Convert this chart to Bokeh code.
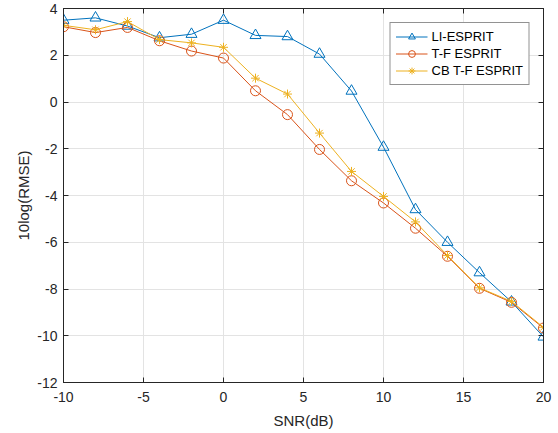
from bokeh.plotting import figure
from bokeh.models import LinearAxis, Range1d, FixedTicker, Legend, LegendItem
from bokeh.embed import file_html
from bokeh.resources import INLINE

snr = [-10, -8, -6, -4, -2, 0, 2, 4, 6, 8, 10, 12, 14, 16, 18, 20]
li_esprit = [3.5, 3.6, 3.25, 2.75, 2.9, 3.5, 2.85, 2.8, 2.05, 0.47, -1.93, -4.6, -6.0, -7.3, -8.55, -10.05]
tf_esprit = [3.22, 2.97, 3.19, 2.62, 2.18, 1.88, 0.48, -0.54, -2.03, -3.37, -4.32, -5.4, -6.6, -7.97, -8.57, -9.67]
cb_tf_esprit = [3.28, 3.09, 3.44, 2.67, 2.53, 2.34, 1.02, 0.34, -1.33, -2.97, -4.04, -5.13, -6.57, -7.95, -8.53, -9.64]
x_ticks = [-10, -5, 0, 5, 10, 15, 20]
x_tick_labels = ["-10", "-5", "0", "5", "10", "15", "20"]
y_ticks = [-12, -10, -8, -6, -4, -2, 0, 2, 4]
y_tick_labels = ["-12", "-10", "-8", "-6", "-4", "-2", "0", "2", "4"]
series_names = ["LI-ESPRIT", "T-F ESPRIT", "CB T-F ESPRIT"]

FONT = "Liberation Sans"
AX = "#262626"

p = figure(frame_width=480, frame_height=374,
           min_border_left=63, min_border_top=8, min_border_right=15, min_border_bottom=0,
           x_range=Range1d(-10, 20), y_range=Range1d(-12, 4),
           output_backend="svg", toolbar_location=None)

p.background_fill_color = "white"
p.border_fill_color = "white"
p.outline_line_color = AX
p.outline_line_width = 1
p.outline_line_alpha = 1

for ax in (p.xaxis[0], p.yaxis[0]):
    ax.major_tick_in = 5
    ax.major_tick_out = 0
    ax.minor_tick_line_color = None
    ax.axis_line_color = AX
    ax.major_tick_line_color = AX
    ax.major_label_text_color = AX
    ax.major_label_text_font = FONT
    ax.major_label_text_font_size = "14px"
    ax.axis_label_text_font = FONT
    ax.axis_label_text_font_size = "15px"
    ax.axis_label_text_font_style = "normal"
    ax.axis_label_text_color = AX

p.xaxis[0].ticker = FixedTicker(ticks=x_ticks)
p.yaxis[0].ticker = FixedTicker(ticks=y_ticks)
p.xaxis[0].major_label_overrides = dict(zip(x_ticks, x_tick_labels))
p.yaxis[0].major_label_overrides = dict(zip(y_ticks, y_tick_labels))
p.xaxis[0].axis_label = "SNR(dB)"
p.yaxis[0].axis_label = "10log(RMSE)"
p.xaxis[0].major_label_standoff = 9
p.xaxis[0].axis_label_standoff = 7
p.yaxis[0].major_label_standoff = 6
p.yaxis[0].axis_label_standoff = 2

top = LinearAxis(ticker=FixedTicker(ticks=x_ticks), major_label_overrides={t: "" for t in x_ticks},
                 major_tick_in=5, major_tick_out=0, minor_tick_line_color=None,
                 axis_line_color=AX, major_tick_line_color=AX, major_label_standoff=0)
right = LinearAxis(ticker=FixedTicker(ticks=y_ticks), major_label_overrides={t: "" for t in y_ticks},
                   major_tick_in=5, major_tick_out=0, minor_tick_line_color=None,
                   axis_line_color=AX, major_tick_line_color=AX, major_label_standoff=0)
p.add_layout(top, "above")
p.add_layout(right, "right")

p.xgrid.ticker = FixedTicker(ticks=x_ticks)
p.ygrid.ticker = FixedTicker(ticks=y_ticks)
p.grid.grid_line_color = "#e3e3e3"
p.grid.grid_line_width = 1

colors = ["#0072BD", "#D95319", "#EDB120"]
markers = ["triangle", "circle", "asterisk"]
sizes = [11, 10, 9]
items = []
for name, ys, c, m, s in zip(series_names, [li_esprit, tf_esprit, cb_tf_esprit], colors, markers, sizes):
    l = p.line(snr, ys, line_color=c, line_width=1)
    sc = p.scatter(snr, ys, marker=m, size=s, line_color=c, fill_color=None, line_width=1)
    items.append(LegendItem(label=name, renderers=[l, sc]))

legend = Legend(items=items, location="top_right", margin=14,
                border_line_color=AX, border_line_width=1, background_fill_color="white",
                background_fill_alpha=1, label_text_font=FONT, label_text_font_size="13px",
                label_text_color="#000000", glyph_width=32, glyph_height=17, label_height=17,
                spacing=0, padding=5, label_standoff=4)
p.add_layout(legend, "center")

open("out.html", "w").write(file_html(p, INLINE))
